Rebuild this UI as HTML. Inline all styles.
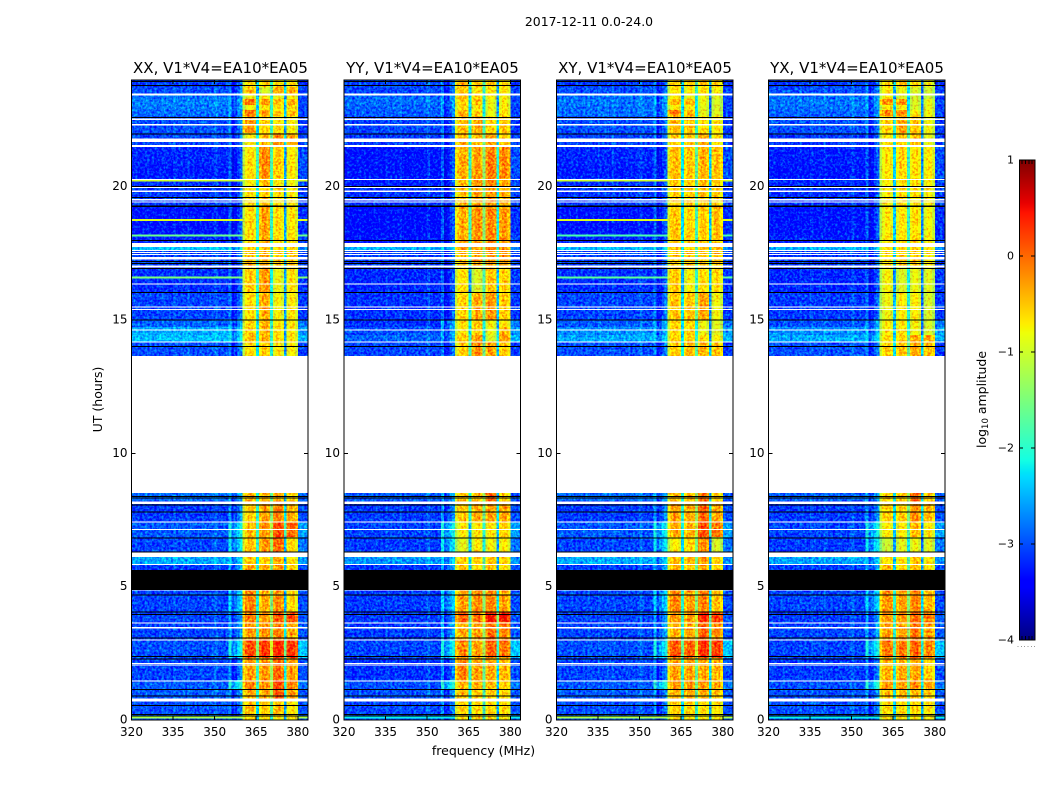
<!DOCTYPE html>
<html>
<head>
<meta charset="utf-8">
<style>
html,body{margin:0;padding:0;background:#fff}
svg{display:block}
text{font-family:"DejaVu Sans","Liberation Sans",sans-serif;fill:#000}
</style>
</head>
<body>
<svg id="chart" width="1050" height="800" viewBox="0 0 1050 800" xmlns="http://www.w3.org/2000/svg">
  <defs id="defs"></defs>
  <g id="plots"></g>
  <text x="589" y="26" font-size="12.45" text-anchor="middle">2017-12-11 0.0-24.0</text>
  <text x="220.5" y="73" font-size="15" text-anchor="middle">XX, V1*V4=EA10*EA05</text>
  <text x="432.5" y="73" font-size="15" text-anchor="middle">YY, V1*V4=EA10*EA05</text>
  <text x="645" y="73" font-size="15" text-anchor="middle">XY, V1*V4=EA10*EA05</text>
  <text x="857" y="73" font-size="15" text-anchor="middle">YX, V1*V4=EA10*EA05</text>
  <text x="483.5" y="755" font-size="12.5" text-anchor="middle">frequency (MHz)</text>
  <text transform="translate(102,399.5) rotate(-90)" font-size="12.5" text-anchor="middle">UT (hours)</text>
  <text transform="translate(986,399.5) rotate(-90)" font-size="12.5" text-anchor="middle">log<tspan font-size="8.5" dy="2">10</tspan><tspan dy="-2"> amplitude</tspan></text>
  <g id="cbar"></g>
</svg>
<script>
// ---- time rows (UT hours) ----
var rowTopUT=[24,23.74,23.44,23.29,23.06,22.88,22.65,22.01,21.56,21.19,20.81,20.33,20,19.28,18.19,17.89,17.63,17.03,16.05,15,14.74,14.44,14.18,8.51,8.21,7.43,6.86,6.3,6.08,5.85,4.88,4.05,3.68,3,2.33,1.5,1.16,0.71,0.23];
var rowBottomUT=[23.74,23.44,23.29,23.06,22.88,22.65,22.01,21.56,21.19,20.81,20.33,20,19.28,18.19,17.89,17.63,17.03,16.05,15,14.74,14.44,14.18,13.65,8.21,7.43,6.86,6.3,6.08,5.85,5.63,4.05,3.68,3,2.33,1.5,1.16,0.71,0.23,0];
// ---- frequency groups and per-MHz channel trim (log10 amplitude) ----
var groupEdgesMHz=[320,355,360,365,370,375,380,384];
var colTrim=[0,.05,0,-.05,0,.05,0,0,-.05,0, 0,.05,0,0,-.05,.1,0,0,.05,0, .12,0,0,-.05,0,.05,0,0,0,.05, .2,0,0,0,0,.3,-.35,-.15,.1,.3, -.45,-.1,.05,.05,-.15,-1.7,-.2,.05,.05,-.1, -1.3,-.15,.05,.05,-.15,-1.9,-.15,.05,0,-.25, 0,0,0,0];
// ---- background level per row ----
var xxBackground=[-3.1,-3,-2.85,-2.75,-2.8,-2.85,-3,-3.05,-3.2,-3.2,-3.25,-3.15,-3.1,-3.3,-3.2,-2.4,-3.05,-3.15,-3.05,-2.9,-2.55,-2.45,-3,-2.85,-3.1,-2.95,-3.05,-2.55,-2.55,-3.1,-3.05,-3.05,-3.05,-3,-3.05,-2.95,-2.95,-3,-2.95];
var yyBackground=[-3.05,-3.05,-2.9,-2.85,-2.9,-2.95,-3.05,-3.1,-3.3,-3.3,-3.3,-3.25,-3.15,-3.35,-3.3,-2.5,-3.1,-3.2,-3.15,-3.15,-3,-2.9,-3.05,-2.95,-3.1,-3.05,-3.1,-2.65,-2.65,-3.15,-3.1,-3.1,-3.1,-3.05,-3.15,-3,-3,-3.05,-3];
var xyBackground=[-3.1,-3,-2.85,-2.8,-2.85,-2.85,-3,-3.05,-3.2,-3.2,-3.25,-3.15,-3.1,-3.3,-3.2,-2.45,-3.05,-3.15,-3.05,-2.95,-2.7,-2.55,-3,-2.85,-3.1,-2.95,-3.05,-2.55,-2.55,-3.1,-3.05,-3.05,-3.05,-3,-3.05,-2.95,-2.95,-3,-2.95];
var yxBackground=[-3.1,-3,-2.85,-2.8,-2.85,-2.9,-3,-3.1,-3.25,-3.25,-3.3,-3.2,-3.15,-3.3,-3.25,-2.5,-3.1,-3.2,-3.1,-3,-2.7,-2.55,-3,-2.9,-3.1,-3.05,-3.1,-2.55,-2.6,-3.1,-3.05,-3.1,-3.05,-3.05,-3.1,-3,-3,-3,-3];
// ---- shoulder below the band (355-360 MHz) and edge above it (380-384 MHz) ----
var shoulderLevel=[-3.2,-3.2,-3.2,-3.2,-3.2,-3.2,-3.2,-3.2,-3.2,-3.2,-3.2,-3.2,-3.2,-3.2,-3.2,-3.2,-3.2,-3.2,-3.2,-2.8,-2.8,-2.8,-3.2,-2.8,-2.9,-2.4,-2.5,-2.6,-2.6,-2.8,-2.6,-2.9,-2.8,-2.4,-3,-2.3,-2.9,-3,-3];
var edgeLevel=[-3.15,-3.05,-3.05,-3.05,-3.05,-3.05,-3.1,-3.05,-3,-3,-3,-3.05,-3.05,-3.15,-3.05,-2.7,-3.05,-3.1,-3.1,-2.8,-2.6,-2.5,-3.1,-2.95,-3,-2.6,-2.8,-2.65,-2.65,-3,-3,-2.95,-2.95,-2.4,-3,-2.8,-2.95,-3,-2.95];
// ---- four 5-MHz subband levels per row ----
var xxBands=[[-.7,-.6,-.7,-.7],[-.5,-1,-.4,-.4],[-.9,-.8,-.9,-.8],[-.1,-.3,-.55,-.4],[-.85,-.75,-.75,-.7],[-.2,-.35,-.6,-.5],[-.3,-.6,-.7,-.8],[-.8,-.5,-.25,-.35],[-.75,-.25,-.6,-.75],[-.7,-.2,-.55,-.75],[-.7,-.25,-.6,-.75],[-.8,-.5,-.8,-.85],[-.7,-.55,-.7,-.75],[-.7,-.35,-.7,-.75],[-.7,-.4,-.7,-.7],[-.6,-.55,-.7,-.6],[-.5,-.4,-.6,-.5],[-.6,-.3,-.9,-.7],[-.7,-.4,-.85,-.75],[-.65,-.45,-.7,-.75],[-.55,-.45,-.7,-.75],[-.5,-.45,-.7,-.75],[-.7,-.6,-.8,-.8],[-.45,-.5,-.45,-.6],[-.6,-.35,-.2,-.4],[-.5,-.3,.1,0],[-.55,-.3,-.05,-.65],[-.6,-.6,-.4,-.7],[-.6,-.6,-.4,-.7],[-.35,-.4,-.3,-.6],[-.2,-.4,-.25,-.65],[-.15,-.3,.05,.1],[-.3,-.25,-.2,-.35],[.1,.2,.3,.25],[-.35,-.3,-.05,-.3],[-.2,-.3,.1,-.2],[-.4,-.4,.05,-.3],[-.5,-.6,-.5,-.7],[-.6,-.7,-.8,-.75]];
var yyBands=[[-.45,-.55,-.55,-.7],[-.5,-.75,-.75,-.7],[-.5,-.6,-.8,-.8],[-.6,-.5,-.9,-.8],[-.7,-.75,-.9,-.75],[-.45,-.6,-.9,-.7],[-.5,-.4,-.65,-.55],[-.4,-.5,-.35,-.55],[-.45,-.35,-.2,-.2],[-.4,-.35,-.15,-.2],[-.4,-.3,-.15,-.2],[-.55,-.3,-.2,-.35],[-.5,-.35,-.3,-.4],[-.45,-.25,-.2,-.3],[-.4,-.3,-.2,-.3],[-.3,-.35,-.15,-.2],[-.5,-.35,-.3,-.3],[-.7,-1,-.55,-.6],[-.65,-.4,-.3,-.55],[-.7,-.55,-.85,-.7],[-.75,-.6,-.9,-.45],[-.55,-.3,-1,-.3],[-.6,-.25,-.35,-.55],[-.5,-.5,-.05,-.6],[-.55,-.4,-.35,-.35],[-.8,-.75,-.75,-.6],[-.95,-.8,-.85,-.75],[-.6,-.6,-.5,-.6],[-.6,-.6,-.5,-.6],[-.55,-.75,-.5,-.7],[-.35,-.25,-.2,-.35],[0,-.1,.4,.45],[-.4,-.35,-.1,-.15],[-.2,-.35,0,-.1],[-.2,-.35,-.4,-.45],[-.45,-.45,-.5,-.55],[-.5,-.55,-.6,-.6],[-.6,-.65,-.65,-.65],[-.7,-.6,-.7,-.7]];
var xyBands=[[-.6,-.6,-.55,-.6],[-.7,-.8,-.7,-.8],[-.75,-.9,-.9,-.95],[-.45,-.5,-.9,-1],[-.8,-.75,-.95,-1],[-.15,-.5,-.95,-.95],[-.5,-.55,-.7,-.7],[-.6,-.6,-.4,-.7],[-.5,-.55,-.45,-.5],[-.5,-.55,-.45,-.5],[-.5,-.55,-.45,-.5],[-.55,-.6,-.5,-.55],[-.6,-.6,-.55,-.6],[-.55,-.65,-.6,-.5],[-.55,-.6,-.6,-.5],[-.5,-.6,-.55,-.5],[-.6,-.5,-.55,-.5],[-.55,-.85,-.7,-.65],[-.55,-.55,-.35,-.85],[-.65,-.65,-.9,-.95],[-.65,-.65,-.9,-.95],[-.6,-.6,-.7,-.8],[-.6,-.5,-.45,-.5],[-.5,-.5,-.1,-.6],[-.35,-.4,-.05,-.35],[-.4,-.45,.1,-.1],[-.8,-.65,-.25,-1],[-.5,-.5,-.35,-.6],[-.5,-.5,-.35,-.6],[-.45,-.55,-.4,-.6],[-.2,-.35,-.2,-.5],[-.3,-.3,.3,.2],[-.45,-.4,0,-.2],[.05,0,.25,.2],[-.35,-.35,-.4,-.45],[-.3,-.3,-.3,-.4],[-.45,-.4,-.45,-.5],[-.6,-.65,-.7,-.7],[-.7,-.7,-.75,-.75]];
var yxBands=[[-.7,-.5,-.7,-.85],[-.75,-.9,-1,-1.05],[-.8,-1,-1.05,-1.1],[-.25,-.3,-1,-.9],[-.8,-.8,-1,-.9],[-.2,-.25,-.8,-.85],[-.6,-.4,-.55,-.85],[-.75,-.6,-.5,-.9],[-.75,-.65,-.7,-.75],[-.75,-.65,-.7,-.75],[-.75,-.65,-.7,-.75],[-.8,-.7,-.7,-.8],[-.8,-.7,-.7,-.8],[-.8,-.75,-.7,-.85],[-.75,-.7,-.65,-.8],[-.7,-.65,-.6,-.75],[-.7,-.6,-.55,-.75],[-.85,-1,-.9,-.95],[-.9,-.8,-.8,-1],[-.8,-.75,-.85,-1],[-.8,-.75,-.85,-1],[-.7,-.6,-.4,-.4],[-.65,-.55,-.4,-.5],[-.6,-.55,-.05,-.6],[-.6,-.6,-.25,-.45],[-.8,-.8,-.5,-.75],[-1.1,-.95,-.9,-.95],[-.7,-.75,-.55,-.75],[-.7,-.75,-.55,-.75],[-.45,-.65,-.5,-.7],[-.3,-.35,-.2,-.45],[-.3,-.3,-.05,-.1],[-.35,-.35,-.1,-.35],[-.15,-.15,-.05,-.2],[-.45,-.4,-.35,-.6],[-.3,-.35,-.25,-.35],[-.5,-.5,-.5,-.6],[-.7,-.7,-.65,-.7],[-.75,-.7,-.7,-.75]];
// ---- narrow interference lines: UT and level, per polarisation ----
var xxRfiUT=[20.23,18.75,18.16,16.59,0.09];
var xxRfiLevel=[-1,-.9,-1.6,-1.5,-1.2];
var yyRfiUT=[0.09];
var yyRfiLevel=[-2.2];
var xyRfiUT=[20.23,18.75,18.16,16.59,0.09];
var xyRfiLevel=[-1,-.9,-1.8,-1.7,-1.2];
var yxRfiUT=[0.09];
var yxRfiLevel=[-2.2];
// ---- flagged time ranges (UT hours) ----
var whiteFrom=[23.49,22.55,22.35,21.8,21.56,20.29,20,19.85,19.53,19.45,19.3,17.89,17.62,17.55,17.47,17.37,17.05,17,16.37,15.5,15.41,14.65,14.19,13.65,8.2,7.44,7.16,6.3,5.85,4.9,3.66,3.48,3.02,2.14,2.08,1.48,0.81];
var whiteTo=[23.41,22.5,22.29,21.67,21.49,20.25,19.95,19.8,19.49,19.41,19.26,17.74,17.58,17.51,17.43,17.27,17.01,16.96,16.33,15.46,15.37,14.61,14.15,8.51,8.1,7.4,7.12,6.12,5.81,4.86,3.62,3.44,2.98,2.1,2.04,1.44,0.7];
var blackUT=[23.96,23.81,22.62,21.99,20.02,19.62,19.3,19.27,18.0,17.21,17.14,16.95,16.05,15.01,14.02,8.4,8.35,8.09,7.82,6.84,6.32,4.7,4.06,3.98,3.09,2.4,2.31,1.16,0.91,0.56,0.23,0.16];
var blackBlockUT=[5.62,4.88];
// ---- axis ticks ----
var xTickMHz=[320,335,350,365,380];
var yTickUT=[0,5,10,15,20];
var cbarTickValues=[-4,-3,-2,-1,0,1];
var cbarTickLabels=['\u22124','\u22123','\u22122','\u22121','0','1'];
var yTickLabels=['0','5','10','15','20'];
var xTickLabels=['320','335','350','365','380'];
var panelLefts=[131.5,344,556.5,768.5];
var panelNames=['xx','yy','xy','yx'];
var panelBackgrounds=[xxBackground,yyBackground,xyBackground,yxBackground];
var panelBands=[xxBands,yyBands,xyBands,yxBands];
var panelRfiUT=[xxRfiUT,yyRfiUT,xyRfiUT,yxRfiUT];
var panelRfiLevel=[xxRfiLevel,yyRfiLevel,xyRfiLevel,yxRfiLevel];

var NS='http://www.w3.org/2000/svg';
var PW=176.5, TOP=80, BOT=720;
function yScale(ut){return BOT-(ut/24)*(BOT-TOP);}
function xScale(f,x0){return x0+(f-320)*2.772;}
function cbarY(v){return 640-(v+4)*96;}
function interp(t,xs,ys){
  for(var i=1;i<xs.length;i++){ if(t<=xs[i]) return ys[i-1]+(ys[i]-ys[i-1])*(t-xs[i-1])/(xs[i]-xs[i-1]); }
  return ys[ys.length-1];
}
function jet(v){
  var t=Math.max(0,Math.min(1,(v+4)/5));
  var r=interp(t,[0,.35,.66,.89,1],[0,0,1,1,.5]);
  var g=interp(t,[0,.125,.375,.64,.91,1],[0,0,1,1,0,0]);
  var b=interp(t,[0,.11,.34,.65,1],[.5,1,1,0,0]);
  return 'rgb('+Math.round(r*255)+','+Math.round(g*255)+','+Math.round(b*255)+')';
}
function mk(tag,attrs,parent){
  var e=document.createElementNS(NS,tag);
  for(var k in attrs){e.setAttribute(k,attrs[k]);}
  parent.appendChild(e);
  return e;
}
function groupIndex(f){
  for(var i=0;i<groupEdgesMHz.length-1;i++){ if(f>=groupEdgesMHz[i]&&f<groupEdgesMHz[i+1]) return i; }
  return groupEdgesMHz.length-2;
}
function levelFor(p,r,g){
  var bg=panelBackgrounds[p][r];
  if(g===0) return bg;
  if(g===1) return Math.max(bg,shoulderLevel[r]);
  if(g===6) return edgeLevel[r];
  return panelBands[p][r][g-2]+.05;
}

var defs=document.getElementById('defs');
var plots=document.getElementById('plots');
panelLefts.forEach(function(x0,p){
  var name=panelNames[p];
  var fid='speckle-'+name, cid='clip-'+name;
  var clip=mk('clipPath',{id:cid},defs);
  mk('rect',{x:x0,y:TOP,width:PW,height:BOT-TOP},clip);
  var f=mk('filter',{id:fid,x:x0,y:TOP,width:PW,height:BOT-TOP,filterUnits:'userSpaceOnUse','color-interpolation-filters':'sRGB'},defs);
  mk('feTurbulence',{type:'fractalNoise',baseFrequency:'0.42',numOctaves:'2',seed:String(p*7+3),result:'n'},f);
  mk('feColorMatrix',{'in':'n',type:'matrix',values:'0 0 0 0 0  .6 0 0 0 0  0 0 0 0 0  0 0 0 0 1',result:'g'},f);
  mk('feColorMatrix',{'in':'SourceGraphic',type:'matrix',values:'1 0 0 0 0  0 .5 0 0 0  0 0 1 0 0  0 0 0 1 0',result:'s'},f);
  mk('feComposite',{'in':'s',in2:'g',operator:'arithmetic',k1:'0',k2:'1',k3:'1',k4:'0',result:'m'},f);
  mk('feColorMatrix',{'in':'m',type:'matrix',values:'1 0 0 0 0  0 2 0 0 -.6  0 0 1 0 0  0 0 0 1 0'},f);

  var panel=mk('g',{'clip-path':'url(#'+cid+')'},plots);
  
  
  var cells=mk('g',{filter:'url(#'+fid+')','shape-rendering':'crispEdges'},panel);
  
  
  rowTopUT.forEach(function(ut,r){
    var y0=yScale(ut), y1=yScale(rowBottomUT[r]);
    colTrim.forEach(function(trim,c){
      var fr=320+c;
      var v=levelFor(p,r,groupIndex(fr))+trim;
      var rect=mk('rect',{x:xScale(fr,x0).toFixed(2),y:y0.toFixed(2),width:2.9,height:(y1-y0+.5).toFixed(2),fill:jet(v)},cells);
      
      
    });
  });
  var overlay=mk('g',{'shape-rendering':'crispEdges'},panel);
  
  
  panelRfiUT[p].forEach(function(ut,i){
    var l1=mk('rect',{x:xScale(320,x0),y:yScale(ut)-1,width:xScale(360,x0)-xScale(320,x0),height:2,fill:jet(panelRfiLevel[p][i])},overlay);
    
    
    var l2=mk('rect',{x:xScale(380,x0),y:yScale(ut)-1,width:xScale(384,x0)-xScale(380,x0),height:2,fill:jet(panelRfiLevel[p][i])},overlay);
    
    
  });
  whiteFrom.forEach(function(ut,i){
    var w=mk('rect',{x:x0,y:yScale(ut),width:PW,height:Math.max(1,yScale(whiteTo[i])-yScale(ut)),fill:'#fff'},overlay);
    
    
  });
  blackUT.forEach(function(ut){
    var b=mk('rect',{x:x0,y:yScale(ut),width:PW,height:1,fill:'#000'},overlay);
    
    
  });
  var block=mk('rect',{x:x0,y:yScale(blackBlockUT[0]),width:PW,height:yScale(blackBlockUT[1])-yScale(blackBlockUT[0]),fill:'#000'},overlay);
  
  

  var axes=mk('g',{'shape-rendering':'crispEdges'},plots);
  
  
  var frame=mk('rect',{x:x0,y:TOP,width:PW,height:BOT-TOP,fill:'none',stroke:'#000','stroke-width':1},axes);
  
  
  xTickMHz.forEach(function(fv,i){
    var x=xScale(fv,x0);
    var t1=mk('line',{x1:x,x2:x,y1:BOT,y2:BOT-4,stroke:'#000'},axes);
    
    
    var t2=mk('line',{x1:x,x2:x,y1:TOP,y2:TOP+4,stroke:'#000'},axes);
    
    
    var lab=mk('text',{x:x,y:736,'font-size':12,'text-anchor':'middle','shape-rendering':'auto'},axes);
    lab.textContent=xTickLabels[i];
    
    
  });
  yTickUT.forEach(function(ut,i){
    var y=yScale(ut);
    var t1=mk('line',{x1:x0,x2:x0+4,y1:y,y2:y,stroke:'#000'},axes);
    
    
    var t2=mk('line',{x1:x0+PW,x2:x0+PW-4,y1:y,y2:y,stroke:'#000'},axes);
    
    
    var lab=mk('text',{x:x0-4,y:y+3.5,'font-size':12,'text-anchor':'end'},axes);
    lab.textContent=yTickLabels[i];
    
    
  });
});

// colorbar: one strip per pixel from the jet colormap
var cbar=document.getElementById('cbar');
var strips=mk('g',{'shape-rendering':'crispEdges'},cbar);


for(var py=160;py<640;py++){
  var strip=mk('rect',{x:1019,y:py,width:16,height:1.2,fill:jet(-4+(640-py-.5)/96)},strips);
  
  
}
var cbFrame=mk('rect',{x:1019.5,y:160,width:15.5,height:480,fill:'none',stroke:'#000','shape-rendering':'crispEdges'},cbar);


cbarTickValues.forEach(function(v,i){
  var y=cbarY(v);
  var a=mk('line',{x1:1019,x2:1023,y1:y,y2:y,stroke:'#000','shape-rendering':'crispEdges'},cbar);
  
  
  var b=mk('line',{x1:1035,x2:1031,y1:y,y2:y,stroke:'#000','shape-rendering':'crispEdges'},cbar);
  
  
  var lab=mk('text',{x:1014,y:y+3.5,'font-size':11,'text-anchor':'end'},cbar);
  lab.textContent=cbarTickLabels[i];
  
  
});
[1022,1025.5,1029,1032].forEach(function(x){
  var a=mk('line',{x1:x,x2:x,y1:160,y2:164,stroke:'#000','shape-rendering':'crispEdges'},cbar);
  
  
  var b=mk('line',{x1:x,x2:x,y1:636,y2:640,stroke:'#000','shape-rendering':'crispEdges'},cbar);
  
  
});
[1017.5,1021,1024,1027.5,1031,1034].forEach(function(x){
  var d=mk('rect',{x:x,y:646,width:1,height:1,fill:'#999'},cbar);
  
  
});
</script>
</body>
</html>
